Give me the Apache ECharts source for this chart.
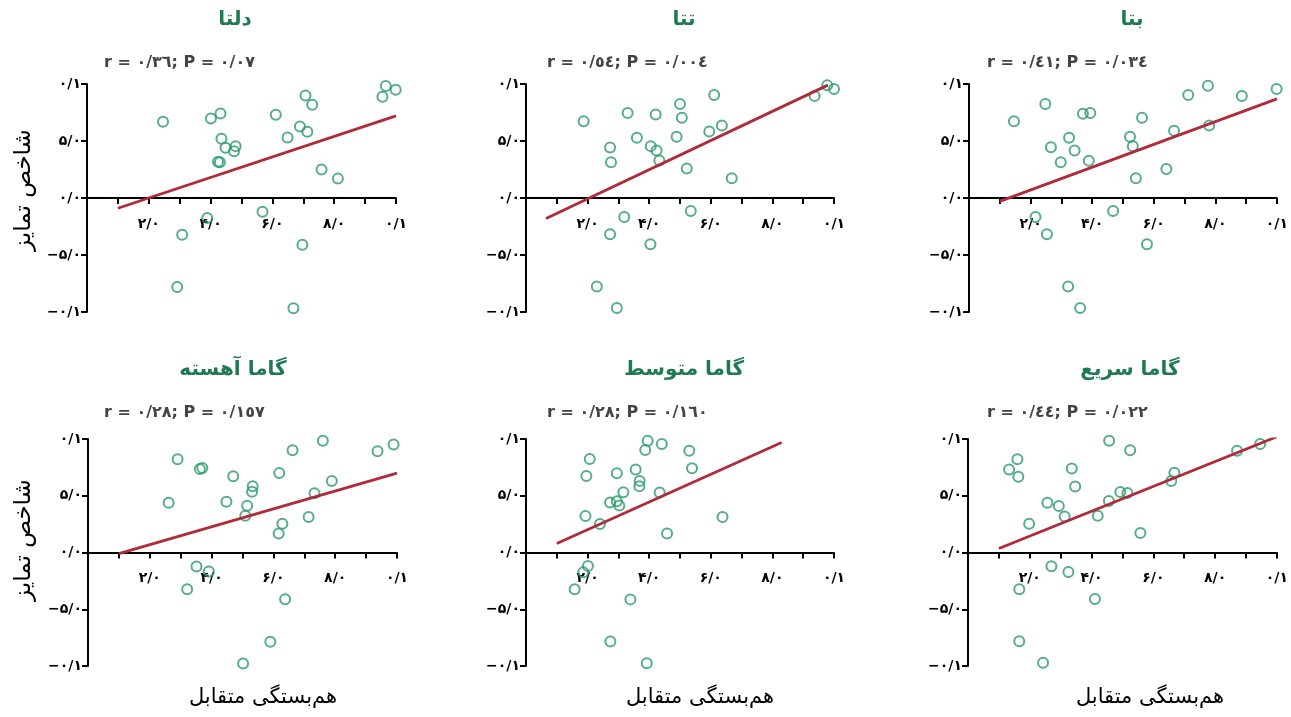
<!DOCTYPE html>
<html>
<head>
<meta charset="utf-8">
<script src="https://cdn.jsdelivr.net/npm/echarts@6/dist/echarts.min.js"></script>
<style>
html,body{margin:0;padding:0;background:#fff;}
#chart{width:1291px;height:717px;}
</style>
</head>
<body>
<div id="chart"></div>
<script>
// ---------- DATA ----------
const panelTitles = ['دلتا', 'تتا', 'بتا', 'گاما آهسته', 'گاما متوسط', 'گاما سریع'];
const statTexts = [
  'r = ٠/٣٦; P = ٠/٠٧',
  'r = ٠/٥٤; P = ٠/٠٠٤',
  'r = ٠/٤١; P = ٠/٠٣٤',
  'r = ٠/٢٨; P = ٠/١٥٧',
  'r = ٠/٢٨; P = ٠/١٦٠',
  'r = ٠/٤٤; P = ٠/٠٢٢'
];
const xAxisName = 'هم‌بستگی متقابل';
const yAxisName = 'شاخص تمایز';

const xTickValues = [0.2, 0.4, 0.6, 0.8, 1.0];
const xTickLabels = ['۲/۰', '۴/۰', '۶/۰', '۸/۰', '۰/۱'];
const yTickValues = [-1, -0.5, 0, 0.5, 1];
const yTickLabels = ['−۰/۱', '−۵/۰', '۰/۰', '۵/۰', '۰/۱'];

const deltaX = [0.246,0.401,0.432,0.435,0.448,0.481,0.476,0.424,0.430,0.611,0.649,0.689,0.713,0.707,0.729,0.759,0.812,0.956,0.967,0.999,0.389,0.568,0.308,0.697,0.292,0.668];
const deltaY = [0.669,0.698,0.742,0.519,0.440,0.455,0.410,0.317,0.314,0.730,0.531,0.628,0.581,0.900,0.818,0.249,0.170,0.889,0.982,0.950,-0.176,-0.120,-0.323,-0.410,-0.780,-0.968];

const thetaX = [0.187,0.273,0.276,0.330,0.360,0.405,0.424,0.433,0.421,0.489,0.500,0.506,0.522,0.595,0.611,0.636,0.668,0.937,0.978,1.000,0.319,0.535,0.273,0.404,0.230,0.295];
const thetaY = [0.674,0.443,0.314,0.745,0.528,0.455,0.416,0.328,0.733,0.537,0.824,0.704,0.258,0.584,0.903,0.636,0.173,0.894,0.988,0.956,-0.167,-0.114,-0.317,-0.405,-0.777,-0.965];

const betaX = [0.146,0.248,0.266,0.298,0.325,0.343,0.370,0.394,0.389,0.523,0.532,0.562,0.542,0.641,0.666,0.712,0.776,0.780,0.886,0.999,0.216,0.468,0.253,0.578,0.322,0.361];
const betaY = [0.674,0.824,0.446,0.314,0.528,0.416,0.739,0.745,0.326,0.537,0.455,0.704,0.173,0.255,0.589,0.903,0.985,0.636,0.894,0.956,-0.167,-0.114,-0.317,-0.405,-0.777,-0.965];

const slowGammaX = [0.261,0.290,0.362,0.370,0.448,0.470,0.515,0.509,0.533,0.531,0.619,0.629,0.617,0.662,0.714,0.733,0.760,0.789,0.937,0.989,0.351,0.391,0.321,0.638,0.590,0.502];
const slowGammaY = [0.439,0.822,0.736,0.745,0.448,0.672,0.412,0.324,0.583,0.536,0.701,0.253,0.168,0.901,0.312,0.521,0.984,0.630,0.892,0.951,-0.124,-0.168,-0.324,-0.412,-0.786,-0.978];

const midGammaX = [0.193,0.196,0.207,0.240,0.273,0.295,0.295,0.303,0.316,0.356,0.369,0.368,0.387,0.395,0.441,0.434,0.458,0.530,0.539,0.638,0.201,0.186,0.158,0.339,0.274,0.392];
const midGammaY = [0.322,0.673,0.823,0.251,0.440,0.699,0.451,0.413,0.531,0.732,0.631,0.584,0.903,0.985,0.956,0.528,0.168,0.897,0.743,0.313,-0.118,-0.174,-0.324,-0.413,-0.785,-0.976];

const fastGammaX = [0.133,0.160,0.163,0.198,0.257,0.294,0.313,0.336,0.347,0.420,0.456,0.457,0.493,0.516,0.525,0.558,0.658,0.668,0.871,0.946,0.270,0.325,0.166,0.411,0.166,0.243];
const fastGammaY = [0.732,0.821,0.668,0.253,0.438,0.409,0.318,0.741,0.582,0.324,0.453,0.985,0.532,0.524,0.900,0.171,0.629,0.703,0.897,0.956,-0.121,-0.171,-0.324,-0.409,-0.782,-0.971];

// regression line endpoints [x1, y1, x2, y2]
const deltaFit = [0.10, -0.09, 1.00, 0.72];
const thetaFit = [0.065, -0.18, 0.98, 0.99];
const betaFit = [0.10, -0.03, 1.00, 0.87];
const slowGammaFit = [0.10, -0.01, 1.00, 0.70];
const midGammaFit = [0.10, 0.08, 0.83, 0.97];
const fastGammaFit = [0.10, 0.035, 1.00, 1.02];

// ---------- BUILD ----------
const panelsX = [deltaX, thetaX, betaX, slowGammaX, midGammaX, fastGammaX];
const panelsY = [deltaY, thetaY, betaY, slowGammaY, midGammaY, fastGammaY];
const panelsFit = [deltaFit, thetaFit, betaFit, slowGammaFit, midGammaFit, fastGammaFit];

const gridBoxes = [
  {left: 87, top: 84, width: 309, height: 228},
  {left: 526, top: 84, width: 308, height: 228},
  {left: 969, top: 84, width: 309, height: 228},
  {left: 88, top: 439, width: 309, height: 227},
  {left: 526, top: 439, width: 308, height: 227},
  {left: 968, top: 439, width: 309, height: 227}
];
const titlePos = [[235, 20], [684, 20], [1132, 20], [233, 370], [684, 370], [1130, 370]];
const statPos = [[104, 63], [547, 63], [987, 63], [104, 413], [547, 413], [987, 413]];

const FONT = "'DejaVu Sans', 'Noto Sans', sans-serif";
const GREEN = '#2a9a6a';
const TITLE_GREEN = '#1e7a52';
const RED = '#b02a3a';

function lookup(vals, labels, v) {
  for (let i = 0; i < vals.length; i++) if (Math.abs(vals[i] - v) < 1e-6) return labels[i];
  return '';
}

const grid = [], xAxis = [], yAxis = [], series = [], graphic = [];
for (let i = 0; i < 6; i++) {
  grid.push(Object.assign({containLabel: false}, gridBoxes[i]));
  const half = gridBoxes[i].height / 2;
  xAxis.push({
    type: 'value', gridIndex: i, min: 0, max: 1, interval: 0.2,
    axisLine: {show: true, onZero: true, lineStyle: {color: '#000', width: 2}},
    axisTick: {show: true, length: 6, lineStyle: {color: '#000', width: 2}},
    minorTick: {show: true, splitNumber: 2, length: 6, lineStyle: {color: '#000', width: 2}},
    splitLine: {show: false},
    axisLabel: {
      margin: -(half - 19), color: '#000', fontFamily: FONT, fontWeight: 'bold', fontSize: 14,
      formatter: v => lookup(xTickValues, xTickLabels, v)
    }
  });
  yAxis.push({
    type: 'value', gridIndex: i, min: -1, max: 1, interval: 0.5,
    axisLine: {show: true, onZero: false, lineStyle: {color: '#000', width: 2}},
    axisTick: {show: true, length: 6, lineStyle: {color: '#000', width: 2}},
    splitLine: {show: false},
    axisLabel: {
      margin: 6, color: '#000', fontFamily: FONT, fontWeight: 'bold', fontSize: 14,
      formatter: v => lookup(yTickValues, yTickLabels, v)
    }
  });
  const pts = panelsX[i].map((x, k) => [x, panelsY[i][k]]);
  series.push({
    type: 'scatter', xAxisIndex: i, yAxisIndex: i, data: pts,
    symbol: 'circle', symbolSize: 10, z: 2,
    itemStyle: {color: 'rgba(0,0,0,0)', borderColor: GREEN, borderWidth: 2}
  });
  const f = panelsFit[i];
  series.push({
    type: 'line', xAxisIndex: i, yAxisIndex: i, data: [[f[0], f[1]], [f[2], f[3]]],
    symbol: 'none', z: 3, lineStyle: {color: RED, width: 2.8}
  });
  graphic.push({
    type: 'text', x: titlePos[i][0], y: titlePos[i][1],
    style: {text: panelTitles[i], fill: TITLE_GREEN, fontFamily: FONT, fontWeight: 'bold', fontSize: 20,
      align: 'center', verticalAlign: 'middle'}
  });
  graphic.push({
    type: 'text', x: statPos[i][0], y: statPos[i][1],
    style: {text: statTexts[i], fill: '#444', fontFamily: FONT, fontWeight: 'bold', fontSize: 16,
      align: 'left', verticalAlign: 'middle'}
  });
}
// axis names
[[24, 190], [24, 540]].forEach(p => graphic.push({
  type: 'text', x: p[0], y: p[1], rotation: Math.PI / 2,
  style: {text: yAxisName, fill: '#000', fontFamily: FONT, fontSize: 23, align: 'center', verticalAlign: 'middle'}
}));
[[263, 698], [700, 698], [1150, 698]].forEach(p => graphic.push({
  type: 'text', x: p[0], y: p[1],
  style: {text: xAxisName, fill: '#000', fontFamily: FONT, fontSize: 21, align: 'center', verticalAlign: 'middle'}
}));

const chart = echarts.init(document.getElementById('chart'), null, {renderer: 'canvas'});
chart.setOption({
  backgroundColor: '#fff',
  animation: false,
  grid, xAxis, yAxis, series, graphic
});
</script>
</body>
</html>
